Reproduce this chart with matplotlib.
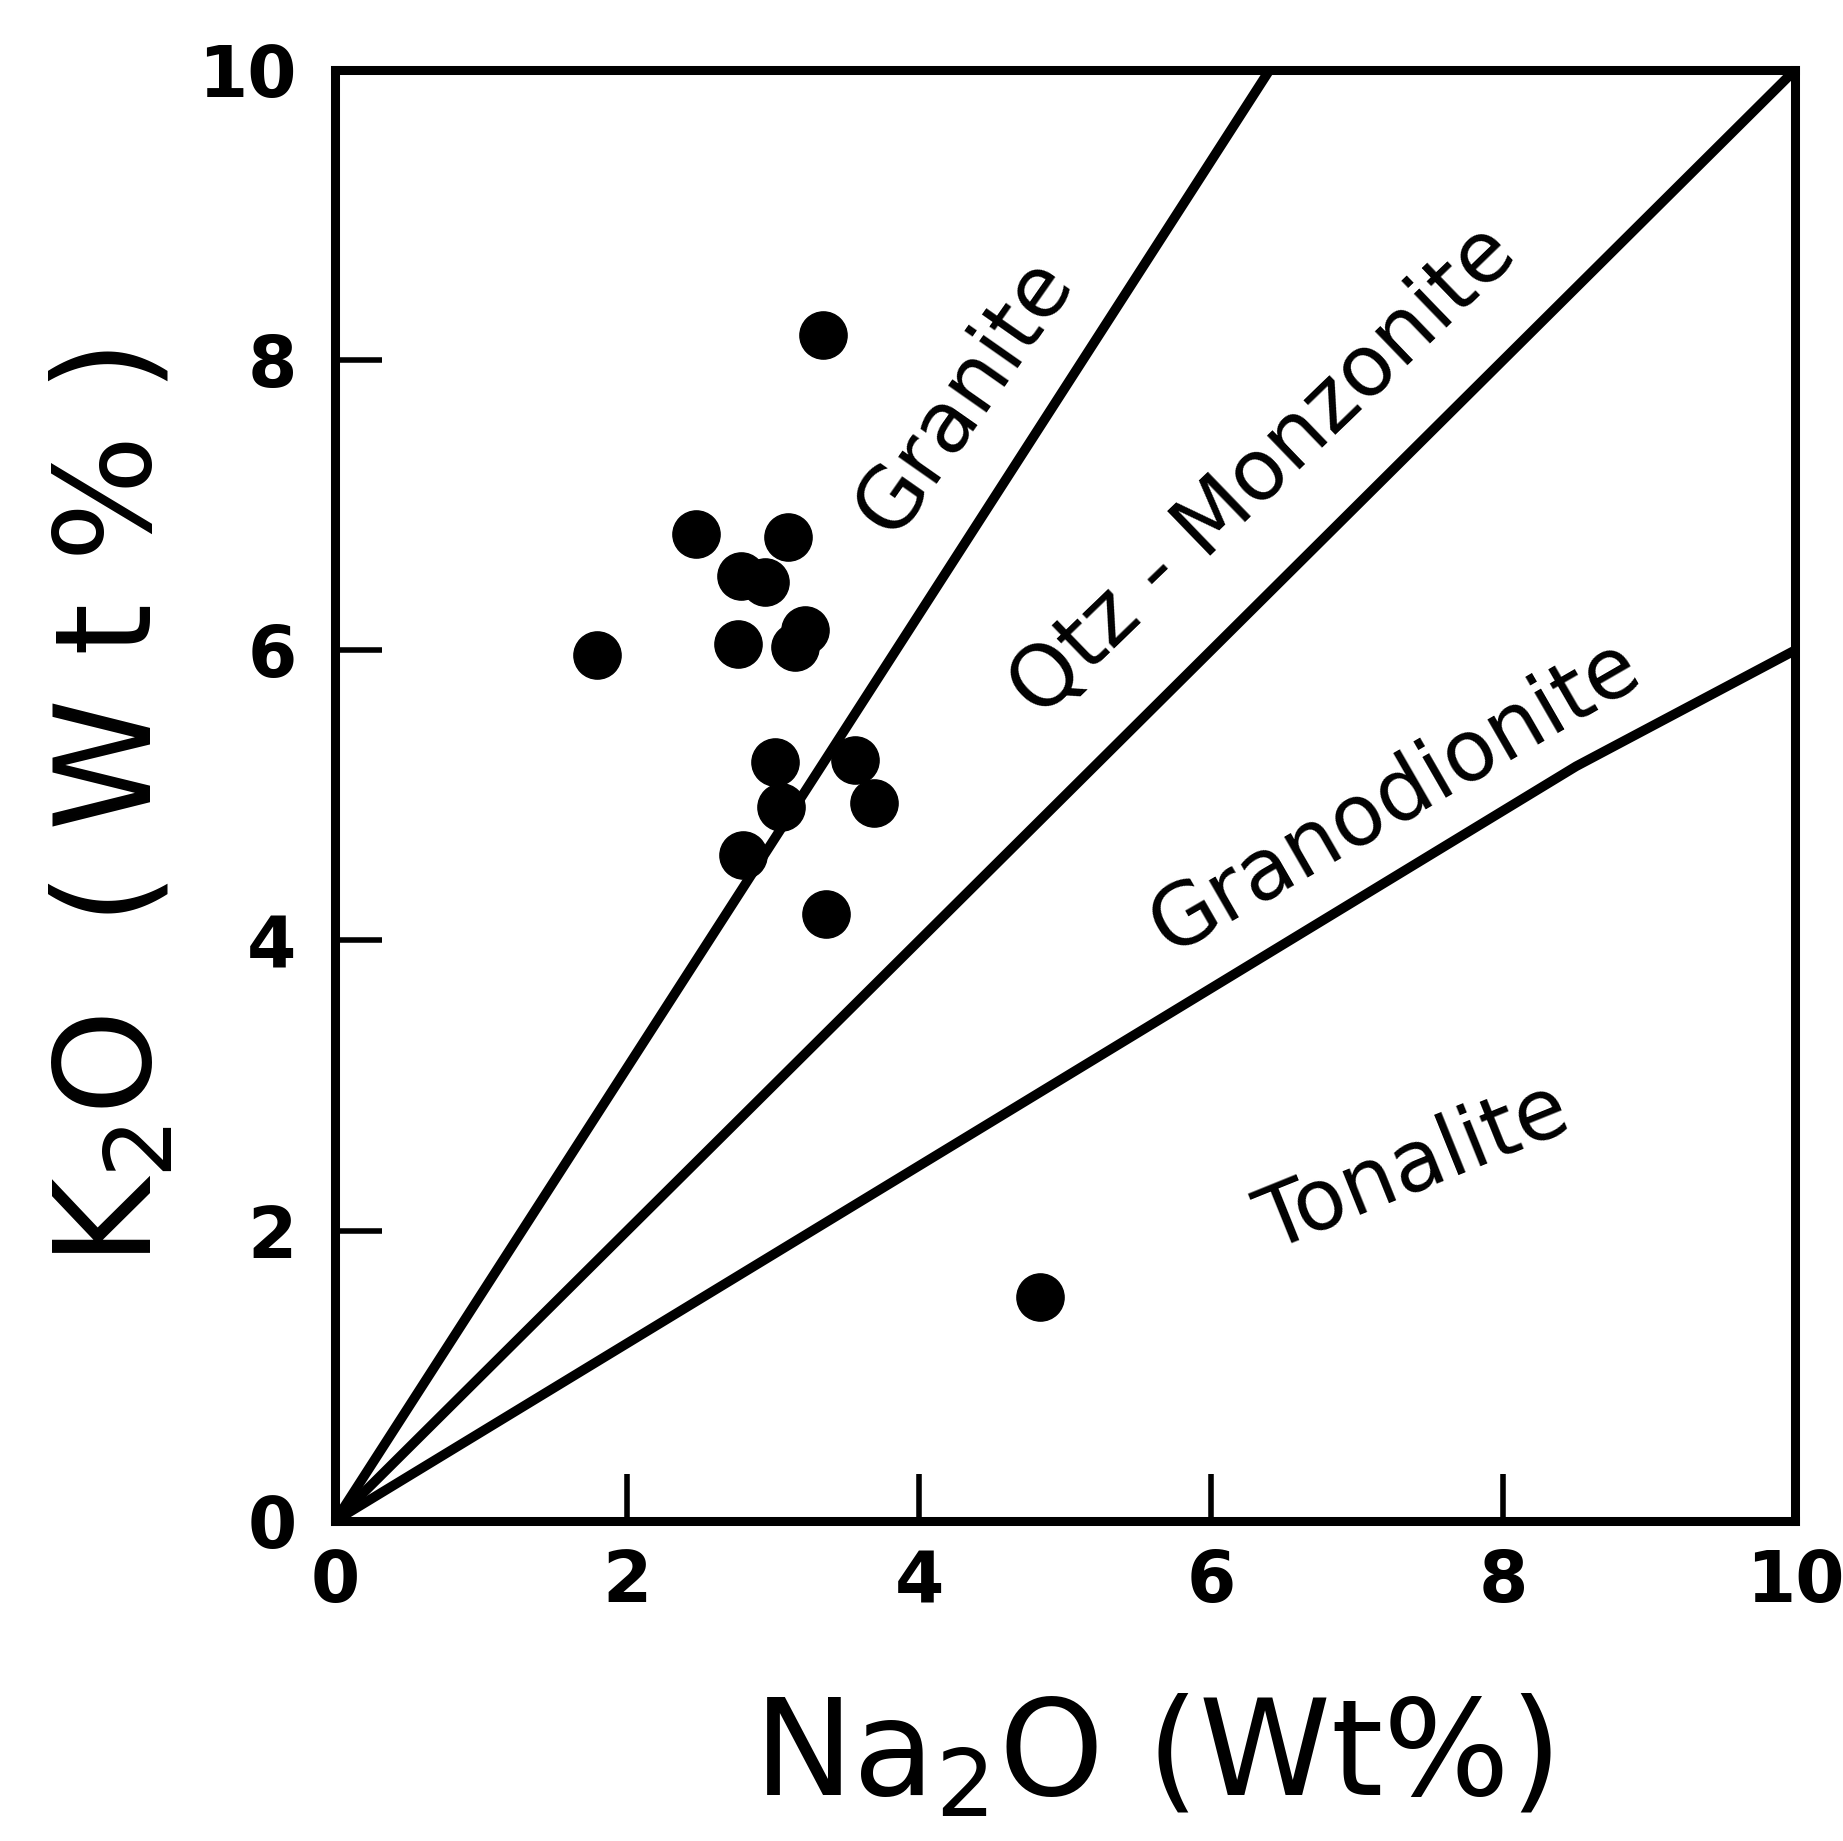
import numpy as np
import matplotlib.pyplot as plt

plt.rcParams['font.family'] = ['DejaVu Sans']
plt.rcParams['mathtext.default'] = 'regular'

# sample points, Na2O vs K2O (wt%)
na2o = [3.34, 2.47, 3.10, 2.78, 2.94, 2.76, 3.22, 3.15, 1.79, 3.01, 3.05, 3.56, 3.69, 2.79, 3.36, 4.83]
k2o = [8.17, 6.80, 6.78, 6.51, 6.47, 6.04, 6.14, 6.02, 5.97, 5.23, 4.92, 5.24, 4.95, 4.59, 4.18, 1.54]

# field boundaries
granite_x = [0, 6.4]
granite_y = [0, 10]
qtz_x = [0, 10]
qtz_y = [0, 10]
grano_x = [0, 8.5, 10]
grano_y = [0, 5.2, 6.0]

fields = ['Granite', 'Qtz - Monzonite', 'Granodionite', 'Tonalite']
field_x = [4.31, 6.36, 7.26, 7.39]
field_y = [7.75, 7.23, 4.99, 2.43]
field_rot = [55, 44, 30, 22]

ticks = [0, 2, 4, 6, 8, 10]

fig = plt.figure(figsize=(18.43, 18.41), dpi=100)
ax = fig.add_axes([0.182, 0.174, 0.792, 0.788])

ax.plot(granite_x, granite_y, color='black', lw=7, solid_capstyle='butt')
ax.plot(qtz_x, qtz_y, color='black', lw=7, solid_capstyle='butt')
ax.plot(grano_x, grano_y, color='black', lw=7, solid_capstyle='butt')
ax.plot(na2o, k2o, 'o', color='black', ms=34, mec='black')

for name, x, y, r in zip(fields, field_x, field_y, field_rot):
    ax.text(x, y, name, rotation=r, ha='center', va='center', fontsize=61,
            rotation_mode='anchor')

ax.set_xlim(0, 10)
ax.set_ylim(0, 10)
ax.set_xticks(ticks)
ax.set_yticks(ticks)
ax.set_xticklabels([str(t) for t in ticks], fontsize=51, fontweight='bold')
ax.set_yticklabels([str(t) for t in ticks], fontsize=51, fontweight='bold')
ax.tick_params(direction='in', length=34, width=4, pad=20)
ax.tick_params(axis='y', pad=28)
for s in ax.spines.values():
    s.set_linewidth(6.5)

fig.text(0.625, 0.045, 'Na$_2$O (Wt%)', ha='center', va='center', fontsize=96)
fig.text(0.062, 0.561, 'K$_2$O  ( W t % )', ha='center', va='center', fontsize=96, rotation=90)

fig.savefig('out.png', dpi=100)
